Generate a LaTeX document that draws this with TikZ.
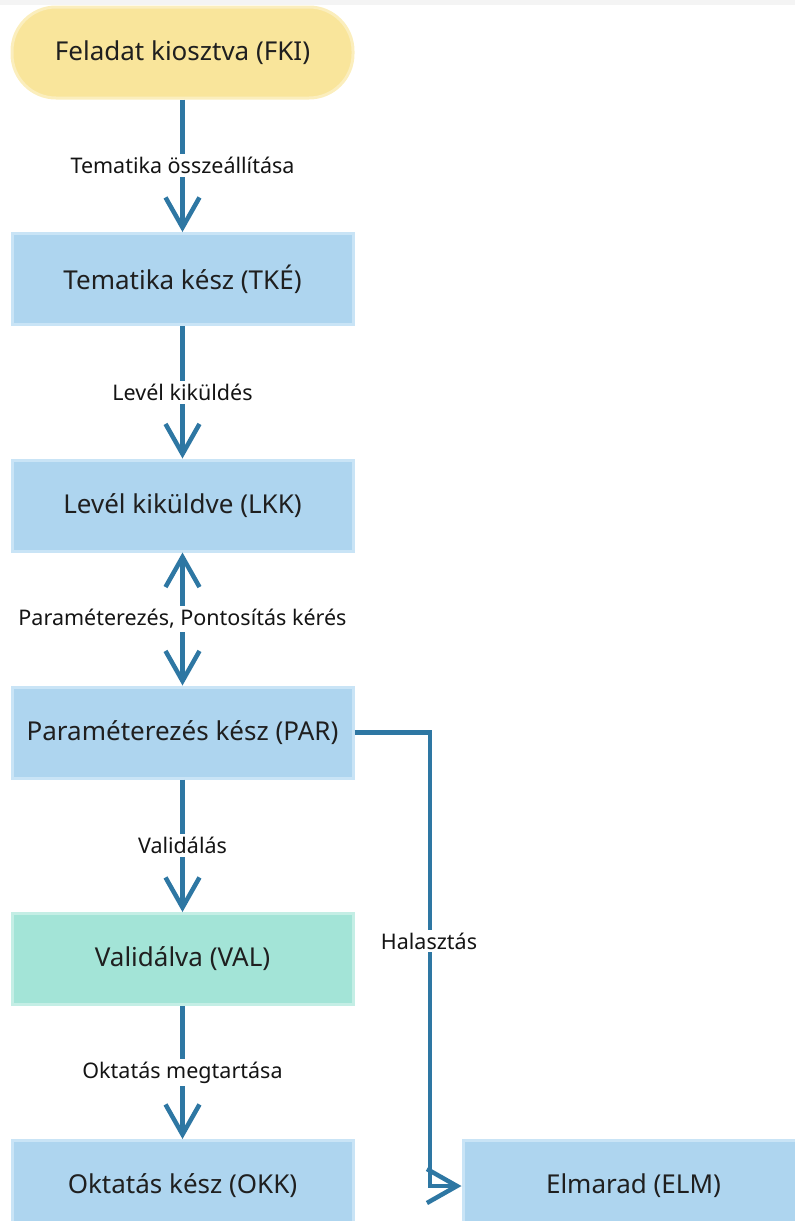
\documentclass[tikz,border=0pt]{standalone}
\usepackage{fontspec}
\setmainfont{Noto Sans}
\usetikzlibrary{arrows.meta}
\definecolor{boxblue}{HTML}{AED5EF}
\definecolor{boxblueb}{HTML}{C9E4F6}
\definecolor{boxyellow}{HTML}{F9E59B}
\definecolor{boxyellowb}{HTML}{FBEEBD}
\definecolor{boxteal}{HTML}{A3E4D7}
\definecolor{boxtealb}{HTML}{C4EEE5}
\definecolor{edgeblue}{HTML}{2E77A3}
\definecolor{topband}{HTML}{F4F4F4}
\begin{document}
\begin{tikzpicture}[x=1pt,y=-1pt,
  state/.style={rectangle, minimum width=341pt, minimum height=91pt, inner sep=0pt,
    fill=boxblue, draw=boxblueb, line width=3pt, text=black!88,
    font=\fontsize{26}{30}\selectfont},
  startstate/.style={state, rounded corners=44pt, fill=boxyellow, draw=boxyellowb},
  okstate/.style={state, fill=boxteal, draw=boxtealb},
  conn/.style={draw=edgeblue, line width=4.5pt,
    -{Straight Barb[length=30pt,width=34pt,line width=4.5pt]}},
  biconn/.style={draw=edgeblue, line width=4.5pt,
    {Straight Barb[length=30pt,width=34pt,line width=4.5pt]}-{Straight Barb[length=30pt,width=34pt,line width=4.5pt]}},
  lbl/.style={fill=white, inner sep=3pt, text=black!92, font=\fontsize{21.5}{25}\selectfont}
]
\useasboundingbox (0,0) rectangle (795,1221);
\clip (0,0) rectangle (795,1221);
\fill[topband] (0,0) rectangle (795,5);

\node[startstate] (fki) at (182.5,52.5) {Feladat kiosztva (FKI)};
\node[state] (tke) at (182.5,279) {Tematika kész (TKÉ)};
\node[state] (lkk) at (182.5,505.5) {Levél kiküldve (LKK)};
\node[state] (par) at (182.5,732.5) {Paraméterezés kész (PAR)};
\node[okstate] (val) at (182.5,959) {Validálva (VAL)};
\node[state] (okk) at (182.5,1186) {Oktatás kész (OKK)};
\node[state] (elm) at (633.5,1186) {Elmarad (ELM)};

\draw[conn] (fki) -- node[lbl] {Tematika összeállítása} (tke);
\draw[conn] (tke) -- node[lbl] {Levél kiküldés} (lkk);
\draw[biconn] (lkk) -- node[lbl] {Paraméterezés, Pontosítás kérés} (par);
\draw[conn] (par) -- node[lbl] {Validálás} (val);
\draw[conn] (val) -- node[lbl] {Oktatás megtartása} (okk);

\coordinate (bend) at (430,732.5);
\draw[conn, rounded corners=0pt] (par.east) -- (bend) |- (elm.west);
\node[lbl] (halasz) at (429,941) {Halasztás};
\end{tikzpicture}
\end{document}
